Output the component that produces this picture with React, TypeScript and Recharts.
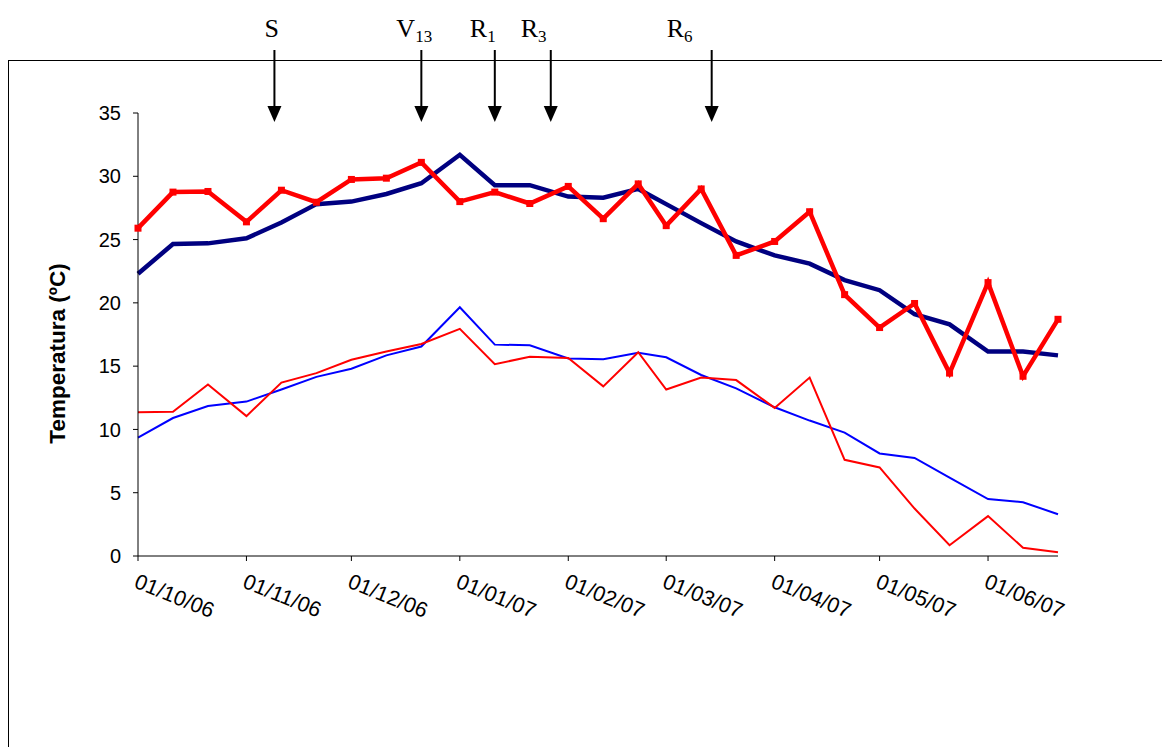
import React from "react";
import { LineChart, Line, XAxis, YAxis, ReferenceLine } from "recharts";

// Ten-day periods, 1 Oct 2006 – 21 Jun 2007
const dates = [
  "2006-10-01", "2006-10-11", "2006-10-21",
  "2006-11-01", "2006-11-11", "2006-11-21",
  "2006-12-01", "2006-12-11", "2006-12-21",
  "2007-01-01", "2007-01-11", "2007-01-21",
  "2007-02-01", "2007-02-11", "2007-02-21",
  "2007-03-01", "2007-03-11", "2007-03-21",
  "2007-04-01", "2007-04-11", "2007-04-21",
  "2007-05-01", "2007-05-11", "2007-05-21",
  "2007-06-01", "2007-06-11", "2007-06-21",
];

// Maximum temperature, long-term mean (ºC)
const maxHist = [
  22.3, 24.65, 24.7, 25.1, 26.35, 27.8, 28.0, 28.6, 29.45,
  31.7, 29.3, 29.3, 28.4, 28.3, 29.0, 27.8, 26.3, 24.85,
  23.75, 23.1, 21.8, 21.0, 19.1, 18.3, 16.15, 16.15, 15.85,
];

// Maximum temperature, 2006/07 season (ºC)
const maxSeason = [
  25.9, 28.75, 28.8, 26.4, 28.9, 27.95, 29.75, 29.85, 31.1,
  28.0, 28.75, 27.85, 29.2, 26.65, 29.4, 26.1, 29.0, 23.75,
  24.85, 27.2, 20.65, 18.05, 19.95, 14.45, 21.6, 14.2, 18.7,
];

// Minimum temperature, long-term mean (ºC)
const minHist = [
  9.35, 10.9, 11.85, 12.2, 13.15, 14.15, 14.8, 15.85, 16.55,
  19.65, 16.7, 16.65, 15.6, 15.55, 16.05, 15.7, 14.3, 13.25,
  11.75, 10.7, 9.75, 8.1, 7.75, 6.2, 4.5, 4.25, 3.3,
];

// Minimum temperature, 2006/07 season (ºC)
const minSeason = [
  11.35, 11.4, 13.55, 11.05, 13.7, 14.45, 15.5, 16.15, 16.75,
  17.95, 15.15, 15.75, 15.65, 13.4, 16.1, 13.15, 14.1, 13.9,
  11.7, 14.1, 7.6, 7.0, 3.75, 0.85, 3.15, 0.65, 0.3,
];

const monthTicks = [
  "2006-10-01", "2006-11-01", "2006-12-01", "2007-01-01", "2007-02-01",
  "2007-03-01", "2007-04-01", "2007-05-01", "2007-06-01",
];

const yTicks = [0, 5, 10, 15, 20, 25, 30, 35];

// Crop stages marked above the plot
const stageNames = ["S", "V", "R", "R", "R"];
const stageSubs = ["", "13", "1", "3", "6"];
const stageDates = ["2006-11-09", "2006-12-21", "2007-01-11", "2007-01-27", "2007-03-14"];

// horizontal shift of each stage label relative to its arrow
const stageLabelShift = [-10, -25, -25, -30, -45];

const toTime = (s: string) => {
  const [y, m, d] = s.split("-").map(Number);
  return Date.UTC(y, m - 1, d);
};

const pad = (n: number) => (n < 10 ? "0" + n : String(n));
const fmtDate = (t: number) => {
  const d = new Date(t);
  return `${pad(d.getUTCDate())}/${pad(d.getUTCMonth() + 1)}/${pad(d.getUTCFullYear() % 100)}`;
};

const data = dates.map((d, i) => ({
  t: toTime(d),
  maxHist: maxHist[i],
  maxSeason: maxSeason[i],
  minHist: minHist[i],
  minSeason: minSeason[i],
}));

const SANS = "'Liberation Sans', Arial, sans-serif";
const SERIF = "'Liberation Serif', 'Times New Roman', serif";

const DateTick = (props: any) => {
  const { x, y, payload } = props;
  return (
    <g transform={`translate(${x - 5},${y + 26})`}>
      <text
        transform="rotate(22)"
        textAnchor="start"
        fontFamily={SANS}
        fontSize={21.5}
        fill="#000"
      >
        {fmtDate(payload.value)}
      </text>
    </g>
  );
};

const SquareDot = (props: any) => {
  const { cx, cy, index } = props;
  if (cx == null || cy == null) return null;
  return <rect key={`sq-${index}`} x={cx - 3.5} y={cy - 3.5} width={7} height={7} fill="#FF0000" />;
};

const makeArrow = (i: number) => (props: any) => {
  const x = props.x1;
  const top = Math.min(props.y1, props.y2);
  const shaftTop = top - 63;
  const tip = top + 9;
  const headTop = tip - 16;
  return (
    <g>
      <line x1={x} y1={shaftTop} x2={x} y2={headTop + 1} stroke="#000" strokeWidth={2} />
      <path d={`M${x - 7},${headTop} L${x + 7},${headTop} L${x},${tip} Z`} fill="#000" />
      <text
        x={x + stageLabelShift[i]}
        y={top - 76}
        fontFamily={SERIF}
        fontSize={26}
        fill="#000"
      >
        {stageNames[i]}
        {stageSubs[i] ? (
          <tspan fontSize={17} dy={5}>
            {stageSubs[i]}
          </tspan>
        ) : null}
      </text>
    </g>
  );
};

const YLabel = (props: any) => {
  const vb = props.viewBox;
  const cx = vb.x - 21;
  const cy = vb.y + vb.height / 2 + 19;
  return (
    <text
      x={cx}
      y={cy}
      transform={`rotate(-90, ${cx}, ${cy})`}
      textAnchor="middle"
      dominantBaseline="central"
      fontFamily={SANS}
      fontWeight="bold"
      fontSize={22.5}
      fill="#000"
    >
      Temperatura (ºC)
    </text>
  );
};

export default function App() {
  return (
    <div
      style={{
        position: "fixed",
        left: 0,
        top: 0,
        width: 1162,
        height: 747,
        background: "#fff",
        overflow: "hidden",
      }}
    >
      <div
        style={{
          position: "absolute",
          left: 8,
          top: 60,
          width: 1170,
          height: 700,
          borderLeft: "1px solid #000",
          borderTop: "1px solid #000",
        }}
      />
      <div style={{ position: "absolute", left: 0, top: 0 }}>
        <LineChart
          width={1162}
          height={747}
          data={data}
          margin={{ top: 113, right: 104, bottom: 111, left: 78 }}
        >
          <XAxis
            dataKey="t"
            type="number"
            domain={[toTime(dates[0]), toTime(dates[dates.length - 1])]}
            ticks={monthTicks.map(toTime)}
            tick={<DateTick />}
            tickSize={5}
            tickMargin={0}
            height={80}
            interval={0}
            axisLine={{ stroke: "#000", strokeWidth: 1 }}
            tickLine={{ stroke: "#000" }}
          />
          <YAxis
            type="number"
            domain={[0, 35]}
            ticks={yTicks}
            interval={0}
            width={60}
            tickSize={5}
            tickMargin={12}
            axisLine={{ stroke: "#000", strokeWidth: 1 }}
            tickLine={{ stroke: "#000" }}
            tick={{ fontFamily: SANS, fontSize: 20, fill: "#000" }}
            label={{ content: <YLabel /> } as any}
          />
          {stageDates.map((d, i) => (
            <ReferenceLine
              key={`stage-${i}`}
              x={toTime(d)}
              ifOverflow="visible"
              shape={makeArrow(i)}
            />
          ))}
          <Line
            name="Mín. media"
            dataKey="minHist"
            type="linear"
            stroke="#0000FF"
            strokeWidth={2}
            dot={false}
            isAnimationActive={false}
          />
          <Line
            name="Mín. 2006/07"
            dataKey="minSeason"
            type="linear"
            stroke="#FF0000"
            strokeWidth={2}
            dot={false}
            isAnimationActive={false}
          />
          <Line
            name="Máx. media"
            dataKey="maxHist"
            type="linear"
            stroke="#000080"
            strokeWidth={4.5}
            dot={false}
            isAnimationActive={false}
          />
          <Line
            name="Máx. 2006/07"
            dataKey="maxSeason"
            type="linear"
            stroke="#FF0000"
            strokeWidth={4.5}
            dot={<SquareDot />}
            isAnimationActive={false}
          />
        </LineChart>
      </div>
    </div>
  );
}
